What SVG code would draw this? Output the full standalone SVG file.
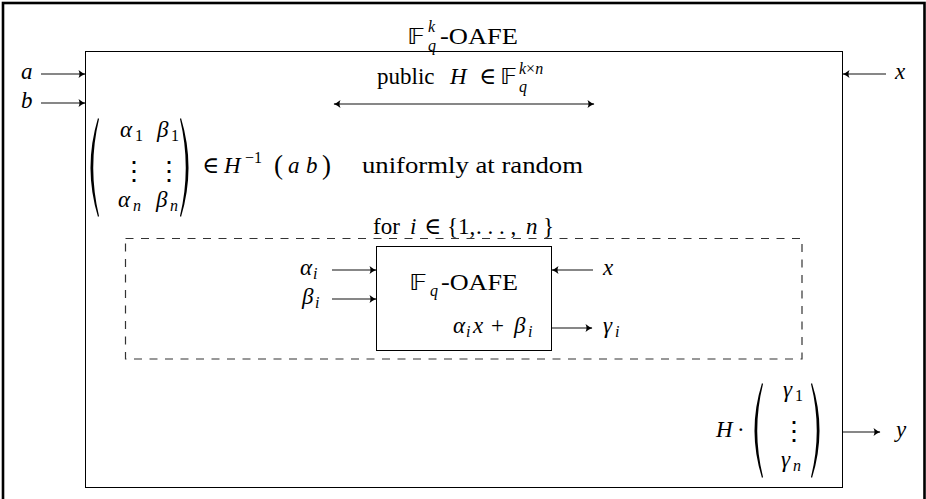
<svg xmlns="http://www.w3.org/2000/svg" width="926" height="499" viewBox="0 0 926 499">
<style>
text{font-family:"Liberation Serif","DejaVu Serif",serif;font-size:23px;fill:#000}
.i{font-style:italic}
.s{font-size:16px}
.bb{font-family:"DejaVu Sans","Noto Sans",sans-serif;font-size:22px}
.dots{font-family:"DejaVu Serif",serif;font-size:26px}
.ln{stroke:#111;stroke-width:1.2;fill:none}
.box{stroke:#000;stroke-width:1;fill:none}
.dash{stroke:#333;stroke-width:1.2;fill:none;stroke-dasharray:8 7.5}
.paren{fill:#000;stroke:none}
</style>
<defs>
<marker id="ah" viewBox="-8 -5 10 10" refX="0" refY="0" markerWidth="10" markerHeight="10" markerUnits="userSpaceOnUse" orient="auto-start-reverse">
<path d="M0.5,0 Q-3,-1 -6.5,-4 Q-4.5,0 -6.5,4 Q-3,1 0.5,0 Z" fill="#000"/>
</marker>
</defs>
<rect x="3" y="3" width="921.5" height="520" fill="none" stroke="#000" stroke-width="2.6"/>

<g id="outer-oafe">
<rect class="box" x="85.5" y="51.5" width="757" height="436"/>
<text class="bb" x="407" y="44" textLength="18" lengthAdjust="spacingAndGlyphs">𝔽</text>
<text class="i s" x="428" y="32">k</text>
<text class="i s" x="428" y="51">q</text>
<text x="440" y="44" textLength="78" lengthAdjust="spacingAndGlyphs">-OAFE</text>
</g>

<g id="public-h">
<text x="377" y="84">public</text>
<text class="i" x="450" y="84">H</text>
<text x="479" y="84">∈</text>
<text class="bb" x="500" y="84" textLength="17" lengthAdjust="spacingAndGlyphs">𝔽</text>
<text class="s" x="519" y="74"><tspan class="i">k</tspan>×<tspan class="i">n</tspan></text>
<text class="i s" x="519" y="92">q</text>
</g>

<g id="sampling">
<path class="paren" d="M98,118 Q83,167.5 98,217 L99,216 Q87.5,167.5 99,119 Z"/>
<path class="paren" d="M181,118 Q196,167.5 181,217 L180,216 Q191.5,167.5 180,119 Z"/>
<text class="i" x="120" y="137">α</text><text class="s" x="135" y="141">1</text>
<text class="i" x="157" y="137">β</text><text class="s" x="171" y="141">1</text>
<text class="dots" x="121" y="180">⋮</text>
<text class="dots" x="156" y="180">⋮</text>
<text class="i" x="118" y="207">α</text><text class="i s" x="133" y="211">n</text>
<text class="i" x="156" y="207">β</text><text class="i s" x="170" y="211">n</text>
<text x="202" y="173">∈</text>
<text class="i" x="224" y="173">H</text>
<text class="s" x="245" y="163">−1</text>
<text x="274" y="174" style="font-size:27px">(</text>
<text class="i" x="288" y="173">a</text>
<text class="i" x="306" y="173">b</text>
<text x="322" y="174" style="font-size:27px">)</text>
<text x="362" y="173" textLength="221" lengthAdjust="spacingAndGlyphs">uniformly at random</text>
</g>

<g id="loop">
<rect class="dash" x="125.5" y="238.5" width="676.5" height="120.5"/>
<text x="373" y="234">for</text>
<text class="i" x="410" y="234">i</text>
<text x="424" y="234">∈</text>
<text x="447" y="234">{1,</text>
<text x="476" y="234">. . . ,</text>
<text class="i" x="526" y="234">n</text>
<text x="543" y="234">}</text>
</g>

<g id="inner-oafe">
<rect class="box" x="376.5" y="246.5" width="175" height="104"/>
<text class="bb" x="409" y="290" textLength="18" lengthAdjust="spacingAndGlyphs">𝔽</text>
<text class="i s" x="430" y="296">q</text>
<text x="441" y="290" textLength="77" lengthAdjust="spacingAndGlyphs">-OAFE</text>
<text class="i" x="453" y="333">α</text><text class="i s" x="466" y="337">i</text>
<text class="i" x="473" y="333">x</text>
<text x="491" y="333">+</text>
<text class="i" x="514" y="333">β</text><text class="i s" x="528" y="337">i</text>
</g>

<g id="output-y">
<text class="i" x="716" y="437">H</text>
<text x="737" y="437">·</text>
<path class="paren" d="M762,383 Q747,430.5 762,478 L763,477 Q751.5,430.5 763,384 Z"/>
<path class="paren" d="M812,383 Q827,430.5 812,478 L811,477 Q822.5,430.5 811,384 Z"/>
<text class="i" x="783" y="397">γ</text><text class="s" x="795" y="401">1</text>
<text class="dots" x="781" y="440">⋮</text>
<text class="i" x="781" y="467">γ</text><text class="i s" x="793" y="471">n</text>
</g>

<g id="labels">
<text class="i" x="21" y="79">a</text>
<text class="i" x="21" y="108">b</text>
<text class="i" x="895" y="79">x</text>
<text class="i" x="300" y="275">α</text><text class="i s" x="313" y="279">i</text>
<text class="i" x="302" y="304">β</text><text class="i s" x="315" y="308">i</text>
<text class="i" x="603" y="275">x</text>
<text class="i" x="603" y="333">γ</text><text class="i s" x="615" y="337">i</text>
<text class="i" x="896" y="437">y</text>
</g>

<g id="connectors">
<line class="ln" x1="41" y1="74" x2="85" y2="74" marker-end="url(#ah)"/>
<line class="ln" x1="41" y1="103" x2="85" y2="103" marker-end="url(#ah)"/>
<line class="ln" x1="886" y1="74" x2="843" y2="74" marker-end="url(#ah)"/>
<line class="ln" x1="334" y1="104" x2="594" y2="104" marker-start="url(#ah)" marker-end="url(#ah)"/>
<line class="ln" x1="332" y1="270" x2="376" y2="270" marker-end="url(#ah)"/>
<line class="ln" x1="332" y1="299" x2="376" y2="299" marker-end="url(#ah)"/>
<line class="ln" x1="593" y1="270" x2="552" y2="270" marker-end="url(#ah)"/>
<line class="ln" x1="552" y1="328" x2="592" y2="328" marker-end="url(#ah)"/>
<line class="ln" x1="843" y1="432" x2="880" y2="432" marker-end="url(#ah)"/>
</g>
</svg>
